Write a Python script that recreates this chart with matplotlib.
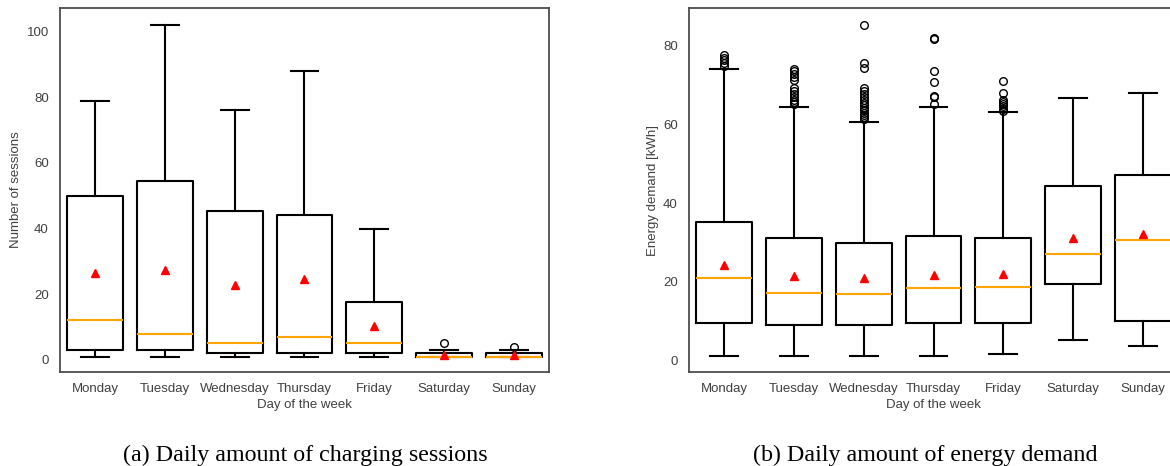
import matplotlib
matplotlib.use('Agg')
import matplotlib.pyplot as plt

days = ['Monday', 'Tuesday', 'Wednesday', 'Thursday', 'Friday', 'Saturday', 'Sunday']

# daily number of charging sessions
sess_med = [12, 8, 5, 7, 5, 1, 1]
sess_q1 = [3, 3, 2, 2, 2, 1, 1]
sess_q3 = [50, 54.5, 45.5, 44.25, 17.75, 2, 2]
sess_lo = [1, 1, 1, 1, 1, 1, 1]
sess_hi = [79, 102, 76, 88, 40, 3, 3]
sess_mean = [26.5, 27.4, 22.8, 24.5, 10.3, 1.6, 1.4]
sess_fliers = [[], [], [], [], [], [5], [4]]

# daily energy demand [kWh]
en_med = [21.1, 17.2, 16.9, 18.4, 18.8, 27.1, 30.6]
en_q1 = [9.6, 9.0, 9.0, 9.5, 9.6, 19.5, 10.0]
en_q3 = [35.3, 31.2, 29.8, 31.7, 31.1, 44.3, 47.1]
en_lo = [1.2, 1.2, 1.2, 1.2, 1.6, 5.2, 3.7]
en_hi = [74.0, 64.5, 60.7, 64.5, 63.2, 66.7, 67.9]
en_mean = [24.3, 21.5, 20.9, 21.7, 21.9, 31.1, 32.1]
en_fliers = [
    [74.9, 75.7, 76.4, 77.0, 77.6],
    [65.1, 65.7, 66.3, 67.0, 67.8, 68.5, 69.3, 71.2, 72.0, 72.8, 73.5, 74.2],
    [61.5, 62.0, 62.4, 63.0, 63.7, 64.3, 64.9, 65.5, 66.2, 67.0, 67.7, 68.5,
     69.2, 74.3, 75.5, 85.3],
    [65.1, 66.9, 67.2, 70.9, 73.6, 81.6, 81.9],
    [63.4, 64.0, 64.8, 65.3, 65.8, 66.3, 68.1, 71.0],
    [],
    [],
]

captions = ['(a) Daily amount of charging sessions', '(b) Daily amount of energy demand']

plt.rcParams['font.family'] = ['Liberation Sans', 'DejaVu Sans']
plt.rcParams['text.color'] = '.25'
plt.rcParams['axes.labelcolor'] = '.25'
plt.rcParams['xtick.color'] = '.25'
plt.rcParams['ytick.color'] = '.25'


def make_stats(med, q1, q3, lo, hi, mean, fliers):
    return [dict(med=med[i], q1=q1[i], q3=q3[i], whislo=lo[i], whishi=hi[i],
                 mean=mean[i], fliers=fliers[i]) for i in range(len(med))]


def draw(ax, stats, ylabel, ylim, yticks):
    ax.bxp(stats, positions=range(1, len(days) + 1), widths=0.8, showmeans=True,
           boxprops=dict(color='black', linewidth=1.5),
           whiskerprops=dict(color='black', linewidth=1.5),
           capprops=dict(color='black', linewidth=1.5),
           medianprops=dict(color='orange', linewidth=1.5),
           meanprops=dict(marker='^', markerfacecolor='red', markeredgecolor='red',
                          markersize=6),
           flierprops=dict(marker='o', markerfacecolor='none', markeredgecolor='black',
                           markersize=5.5, markeredgewidth=1.0))
    ax.set_xlim(0.5, len(days) + 0.5)
    ax.set_ylim(*ylim)
    ax.set_yticks(yticks)
    ax.set_xticks(range(1, len(days) + 1))
    ax.set_xticklabels(days)
    ax.tick_params(length=0, labelsize=9.5)
    ax.tick_params(axis='y', pad=8)
    ax.tick_params(axis='x', pad=8)
    ax.set_xlabel('Day of the week', fontsize=9.5, labelpad=3)
    ax.set_ylabel(ylabel, fontsize=9.5, labelpad=3)
    for s in ax.spines.values():
        s.set_color('.3')
        s.set_linewidth(1.3)


fig = plt.figure(figsize=(11.7, 4.66), dpi=100)
W, H = 1170, 466
ax1 = fig.add_axes([60 / W, (H - 372) / H, 489 / W, 364 / H])
ax2 = fig.add_axes([689 / W, (H - 372) / H, 489 / W, 364 / H])

draw(ax1, make_stats(sess_med, sess_q1, sess_q3, sess_lo, sess_hi, sess_mean, sess_fliers),
     'Number of sessions', (-3.7, 107.2), [0, 20, 40, 60, 80, 100])
draw(ax2, make_stats(en_med, en_q1, en_q3, en_lo, en_hi, en_mean, en_fliers),
     'Energy demand [kWh]', (-2.9, 89.6), [0, 20, 40, 60, 80])

fig.text(305 / W, 5 / H, captions[0], ha='center', va='baseline',
         family='Liberation Serif', fontsize=17.3, color='black')
fig.text(925 / W, 5 / H, captions[1], ha='center', va='baseline',
         family='Liberation Serif', fontsize=17.3, color='black')

fig.savefig('out.png', dpi=100)
